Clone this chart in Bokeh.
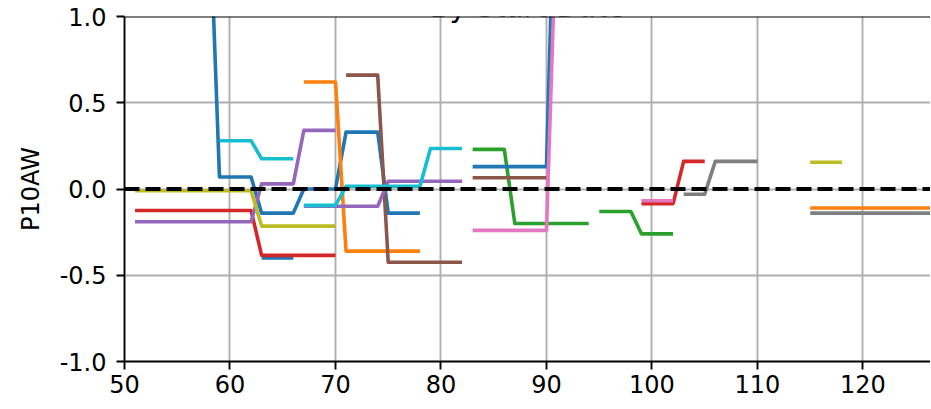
from bokeh.plotting import figure
from bokeh.models import Label, Span, FixedTicker
from bokeh.embed import file_html
from bokeh.resources import INLINE

title_text = "By Start Date"
y_label = "P10AW"
x_ticks = [50, 60, 70, 80, 90, 100, 110, 120]
y_ticks = [-1.0, -0.5, 0.0, 0.5, 1.0]
y_tick_labels = ["-1.0", "-0.5", "0.0", "0.5", "1.0"]

# ---- series (x = start day, y = P10AW) ----
blue_a_x = [58, 59, 60, 61, 62, 63, 64, 65, 66, 67, 68, 69, 70, 71, 72, 73, 74, 75, 76, 77, 78]
blue_a_y = [1.75, 0.07, 0.07, 0.07, 0.07, -0.14, -0.14, -0.14, -0.14, 0.0, 0.0, 0.0, 0.0,
            0.33, 0.33, 0.33, 0.33, -0.14, -0.14, -0.14, -0.14]
blue_b_x = [63, 64, 65, 66]
blue_b_y = [-0.40, -0.40, -0.40, -0.40]
orange_a_x = [67, 68, 69, 70, 71, 72, 73, 74, 75, 76, 77, 78]
orange_a_y = [0.62, 0.62, 0.62, 0.62, -0.36, -0.36, -0.36, -0.36, -0.36, -0.36, -0.36, -0.36]
green_a_x = [83, 84, 85, 86, 87, 88, 89, 90, 91, 92, 93, 94]
green_a_y = [0.23, 0.23, 0.23, 0.23, -0.20, -0.20, -0.20, -0.20, -0.20, -0.20, -0.20, -0.20]
red_a_x = [51, 52, 53, 54, 55, 56, 57, 58, 59, 60, 61, 62, 63, 64, 65, 66, 67, 68, 69, 70]
red_a_y = [-0.125] * 12 + [-0.385] * 8
purple_a_x = [51, 52, 53, 54, 55, 56, 57, 58, 59, 60, 61, 62, 63, 64, 65, 66, 67, 68, 69, 70]
purple_a_y = [-0.19] * 12 + [0.03] * 4 + [0.34] * 4
brown_a_x = [71, 72, 73, 74, 75, 76, 77, 78, 79, 80, 81, 82]
brown_a_y = [0.66] * 4 + [-0.425] * 8
pink_a_x = [83, 84, 85, 86, 87, 88, 89, 90, 91]
pink_a_y = [-0.24] * 8 + [1.67]
olive_a_x = [51, 52, 53, 54, 55, 56, 57, 58, 59, 60, 61, 62, 63, 64, 65, 66, 67, 68, 69, 70]
olive_a_y = [-0.01] * 12 + [-0.215] * 8
cyan_a_x = [59, 60, 61, 62, 63, 64, 65, 66]
cyan_a_y = [0.28, 0.28, 0.28, 0.28, 0.175, 0.175, 0.175, 0.175]
purple_b_x = [67, 68, 69, 70, 71, 72, 73, 74, 75, 76, 77, 78, 79, 80, 81, 82]
purple_b_y = [-0.10] * 8 + [0.045] * 8
cyan_b_x = [67, 68, 69, 70, 71, 72, 73, 74, 75, 76, 77, 78, 79, 80, 81, 82]
cyan_b_y = [-0.095] * 4 + [0.015] * 8 + [0.235] * 4
brown_b_x = [83, 84, 85, 86, 87, 88, 89, 90]
brown_b_y = [0.065] * 8
blue_c_x = [83, 84, 85, 86, 87, 88, 89, 90, 91]
blue_c_y = [0.13] * 8 + [2.3]
green_b_x = [95, 96, 97, 98, 99, 100, 101, 102]
green_b_y = [-0.13] * 4 + [-0.26] * 4
red_b_x = [99, 100, 101, 102, 103, 104, 105]
red_b_y = [-0.085] * 4 + [0.16] * 3
pink_b_x = [99, 100, 101, 102]
pink_b_y = [-0.068] * 4
gray_a_x = [103, 104, 105, 106, 107, 108, 109, 110]
gray_a_y = [-0.03] * 3 + [0.16] * 5
olive_b_x = [115, 116, 117, 118]
olive_b_y = [0.155] * 4
orange_b_x = [115, 116, 117, 118, 119, 120, 121, 122, 123, 124, 125, 126, 127]
orange_b_y = [-0.11] * 13
gray_b_x = [115, 116, 117, 118, 119, 120, 121, 122, 123, 124, 125, 126, 127]
gray_b_y = [-0.14] * 13

series = [
    (blue_a_x, blue_a_y, "#1f77b4"),
    (blue_b_x, blue_b_y, "#1f77b4"),
    (orange_a_x, orange_a_y, "#ff7f0e"),
    (green_a_x, green_a_y, "#2ca02c"),
    (red_a_x, red_a_y, "#d62728"),
    (purple_a_x, purple_a_y, "#9467bd"),
    (brown_a_x, brown_a_y, "#8c564b"),
    (olive_a_x, olive_a_y, "#bcbd22"),
    (cyan_a_x, cyan_a_y, "#17becf"),
    (purple_b_x, purple_b_y, "#9467bd"),
    (cyan_b_x, cyan_b_y, "#17becf"),
    (blue_c_x, blue_c_y, "#1f77b4"),
    (brown_b_x, brown_b_y, "#8c564b"),
    (pink_a_x, pink_a_y, "#e377c2"),
    (green_b_x, green_b_y, "#2ca02c"),
    (red_b_x, red_b_y, "#d62728"),
    (pink_b_x, pink_b_y, "#e377c2"),
    (gray_a_x, gray_a_y, "#7f7f7f"),
    (olive_b_x, olive_b_y, "#bcbd22"),
    (orange_b_x, orange_b_y, "#ff7f0e"),
    (gray_b_x, gray_b_y, "#7f7f7f"),
]

FONT = "DejaVu Sans"

p = figure(width=930, height=415, x_range=(50, 126.4), y_range=(-1.0, 1.0),
           output_backend="svg", toolbar_location=None,
           min_border_left=124, min_border_right=0, min_border_top=29, min_border_bottom=41,
           styles={"margin-top": "-13px"})
p.outline_line_color = None
p.background_fill_color = "white"
p.border_fill_color = "white"

for xs, ys, c in series:
    p.line(xs, ys, line_color=c, line_width=3.6, line_join="round", line_cap="butt")

# axes
for ax in (p.xaxis[0], p.yaxis[0]):
    ax.axis_line_color = "black"
    ax.axis_line_width = 1.9
    ax.major_tick_line_color = "black"
    ax.major_tick_line_width = 1.9
    ax.major_tick_in = 0
    ax.major_tick_out = 8
    ax.minor_tick_line_color = None
    ax.major_label_text_font = FONT
    ax.major_label_text_font_size = "24px"
    ax.major_label_text_color = "black"

p.xaxis.ticker = FixedTicker(ticks=x_ticks)
p.xaxis.major_label_standoff = 5
p.yaxis.ticker = FixedTicker(ticks=y_ticks)
p.yaxis.major_label_overrides = {t: l for t, l in zip(y_ticks, y_tick_labels)}
p.yaxis.major_label_standoff = 10
p.yaxis.axis_label = y_label
p.yaxis.axis_label_text_font = FONT
p.yaxis.axis_label_text_font_size = "24px"
p.yaxis.axis_label_text_font_style = "normal"
p.yaxis.axis_label_text_color = "black"
p.yaxis.axis_label_standoff = 12

p.xgrid.ticker = FixedTicker(ticks=x_ticks)
p.ygrid.ticker = FixedTicker(ticks=y_ticks)
for g in (p.xgrid[0], p.ygrid[0]):
    g.grid_line_color = "#b0b0b0"
    g.grid_line_width = 1.9

p.add_layout(Span(location=0.0, dimension="width", line_color="black",
                  line_width=4, line_dash="15 6"))
p.add_layout(Span(location=1.0, dimension="width", line_color="black", line_width=1.9))

p.add_layout(Label(x=88.2, y=1.056, text=title_text, text_align="center",
                   text_baseline="alphabetic", text_font=FONT, text_font_size="29px",
                   text_color="black"))

open("out.html", "w").write(file_html(p, INLINE))
